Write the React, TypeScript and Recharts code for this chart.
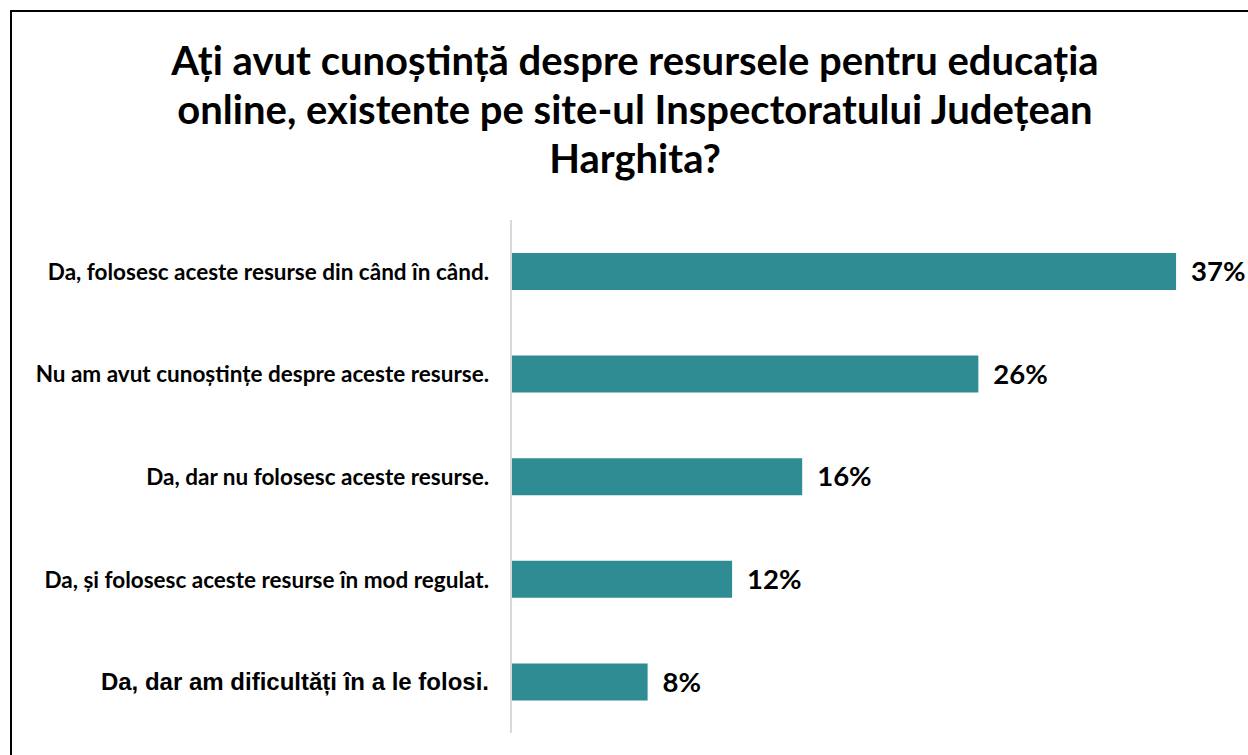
import React from 'react';
import { BarChart, Bar, XAxis, YAxis, LabelList } from 'recharts';

const categories = [
  'Da, folosesc aceste resurse din când în când.',
  'Nu am avut cunoștințe despre aceste resurse.',
  'Da, dar nu folosesc aceste resurse.',
  'Da, și folosesc aceste resurse în mod regulat.',
  'Da, dar am dificultăți în a le folosi.',
];
// bar lengths; labels shown rounded
const percents = [37, 26, 16.2, 12.3, 7.6];
const titleLines = [
  'Ați avut cunoștință despre resursele pentru educația',
  'online, existente pe site-ul Inspectoratului Județean',
  'Harghita?',
];

const data = categories.map((name, i) => ({ name, value: percents[i] }));

const CALIBRI = 'Lato, "Open Sans", sans-serif';
const ARIAL = '"Liberation Sans", Arial, sans-serif';

const CategoryTick = ({ x, y, payload }: any) => {
  // the last label in the source uses an Arial-like face
  const isArial = payload.value === categories[categories.length - 1];
  return (
    <text
      x={x - 14}
      y={y}
      textAnchor="end"
      dominantBaseline="central"
      fontFamily={isArial ? ARIAL : CALIBRI}
      fontWeight="bold"
      fontSize={isArial ? 24 : 22.5}
      fill="#000"
    >
      {payload.value}
    </text>
  );
};

export default function App() {
  return (
    <div style={{ position: 'absolute', left: 0, top: 0, width: 1248, height: 755, overflow: 'hidden', background: '#fff' }}>
      <div
        style={{
          position: 'absolute',
          left: 10,
          top: 10,
          width: 1300,
          height: 800,
          border: '2px solid #000',
          boxSizing: 'border-box',
        }}
      />
      <div
        style={{
          position: 'absolute',
          left: 0,
          top: 36,
          width: 1270,
          textAlign: 'center',
          fontFamily: CALIBRI,
          fontWeight: 'bold',
          fontSize: 40,
          lineHeight: '49px',
          color: '#000',
        }}
      >
        {titleLines.map((l) => (
          <div key={l}>{l}</div>
        ))}
      </div>
      <div style={{ position: 'absolute', left: 0, top: 0 }}>
        <BarChart
          width={1248}
          height={755}
          data={data}
          layout="vertical"
          margin={{ top: 220, right: 18, bottom: 22, left: 0 }}
          barCategoryGap={0}
        >
          <XAxis type="number" domain={[0, 40]} hide />
          <YAxis
            type="category"
            dataKey="name"
            width={511}
            axisLine={{ stroke: '#d9d9d9', strokeWidth: 2 }}
            tickLine={false}
            tick={<CategoryTick />}
            interval={0}
          />
          <Bar dataKey="value" fill="#2f8c92" barSize={37} isAnimationActive={false}>
            <LabelList
              dataKey="value"
              position="right"
              offset={15}
              formatter={(v: any) => `${Math.round(v)}%`}
              fill="#000"
              fontFamily={CALIBRI}
              fontWeight="bold"
              fontSize={27.5}
            />
          </Bar>
        </BarChart>
      </div>
    </div>
  );
}
